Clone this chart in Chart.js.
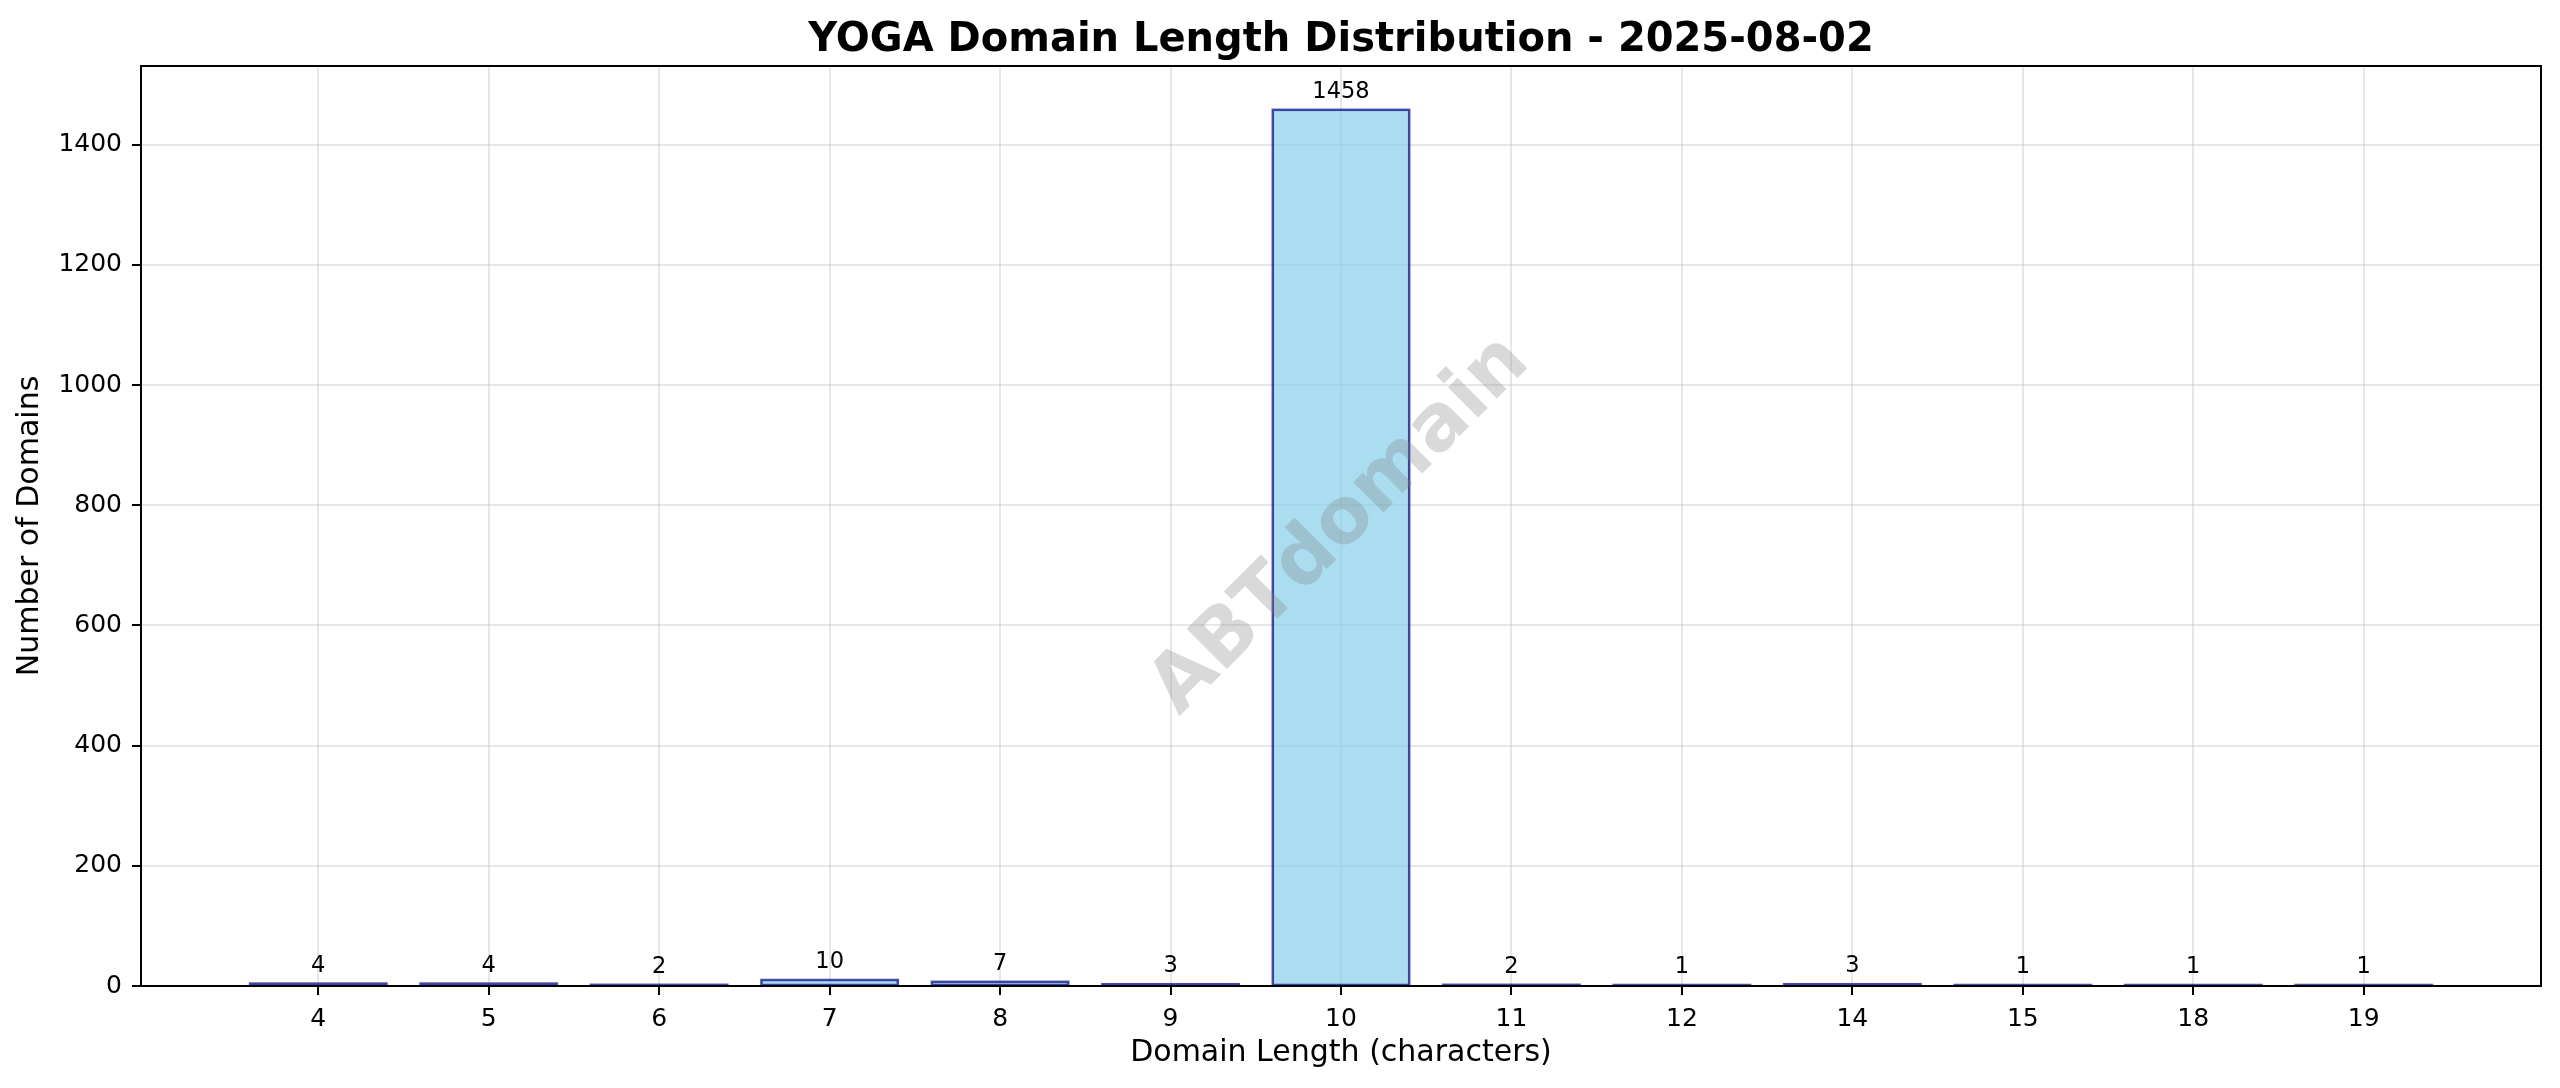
<!DOCTYPE html>
<html>
<head>
<meta charset="utf-8">
<script src="https://cdn.jsdelivr.net/npm/chart.js@4.4.0/dist/chart.umd.min.js"></script>
<style>
  body { margin: 0; background: #fff; }
  #wrap { width: 2560px; height: 1088px; position: relative; }
</style>
</head>
<body>
<div id="wrap"><canvas id="barChart"></canvas></div>
<script>
// Datos del gráfico
const longitudes = [4, 5, 6, 7, 8, 9, 10, 11, 12, 14, 15, 18, 19];
const cantidades = [4, 4, 2, 10, 7, 3, 1458, 2, 1, 3, 1, 1, 1];
const yTicks = [0, 200, 400, 600, 800, 1000, 1200, 1400];
const titulo = 'YOGA Domain Length Distribution - 2025-08-02';
const etiquetaX = 'Domain Length (characters)';
const etiquetaY = 'Number of Domains';
const marcaAgua = 'ABTdomain';

const FUENTE = "'DejaVu Sans', sans-serif";

// margenes tipo matplotlib (5% del rango de barras)
const rangoBarras = (longitudes.length - 1) + 0.8;
const xMin = -0.4 - rangoBarras * 0.05;
const xMax = longitudes.length - 1 + 0.4 + rangoBarras * 0.05;
const yMax = Math.max(...cantidades) * 1.05;

// Plugin para titulo, bordes, etiquetas y marca de agua
const extras = {
    id: 'extras',
    afterDatasetsDraw(chart) {
        // borde de las barras centrado en el contorno (como matplotlib)
        const ctx = chart.ctx;
        const meta = chart.getDatasetMeta(0);
        ctx.save();
        ctx.strokeStyle = 'rgba(0, 0, 128, 0.7)';
        ctx.lineWidth = 2.5;
        meta.data.forEach(bar => {
            const p = bar.getProps(['x', 'y', 'base', 'width'], true);
            ctx.strokeRect(p.x - p.width / 2, p.y, p.width, p.base - p.y);
        });
        ctx.restore();
    },
    afterDraw(chart) {
        const ctx = chart.ctx;
        const area = chart.chartArea;
        ctx.save();

        // marca de agua
        ctx.translate((area.left + area.right) / 2, (area.top + area.bottom) / 2);
        ctx.rotate(-Math.PI / 4);
        ctx.font = 'bold 78px ' + FUENTE;
        ctx.fillStyle = 'rgba(128,128,128,0.3)';
        ctx.textAlign = 'center';
        ctx.textBaseline = 'middle';
        ctx.fillText(marcaAgua, 0, 0);
        ctx.setTransform(1, 0, 0, 1, 0, 0);

        // etiquetas de valores
        const meta = chart.getDatasetMeta(0);
        ctx.font = '22.5px ' + FUENTE;
        ctx.fillStyle = '#000';
        ctx.textAlign = 'center';
        ctx.textBaseline = 'alphabetic';
        meta.data.forEach((bar, i) => {
            ctx.fillText(String(cantidades[i]), bar.x, bar.y - 12);
        });

        // marco completo
        ctx.strokeStyle = '#000';
        ctx.lineWidth = 2;
        ctx.strokeRect(area.left, area.top, area.right - area.left, area.bottom - area.top);

        // titulo
        ctx.font = 'bold 40px ' + FUENTE;
        ctx.textBaseline = 'alphabetic';
        ctx.fillText(titulo, (area.left + area.right) / 2, 51);
        ctx.restore();
    }
};

const ctx = document.getElementById('barChart').getContext('2d');
window.barChartInstance = new Chart(ctx, {
    type: 'bar',
    data: {
        datasets: [{
            label: etiquetaY,
            data: cantidades.map((c, i) => ({ x: i, y: c })),
            backgroundColor: 'rgba(135, 206, 235, 0.7)',
            borderWidth: 0,
            barPercentage: 0.8,
            categoryPercentage: 1.0
        }]
    },
    plugins: [extras],
    options: {
        responsive: true,
        maintainAspectRatio: false,
        devicePixelRatio: 1,
        animation: false,
        layout: { padding: { top: 66, right: 19, left: 0, bottom: 0 } },
        plugins: {
            legend: { display: false },
            tooltip: { enabled: false },
            title: { display: false }
        },
        scales: {
            x: {
                type: 'linear',
                min: xMin,
                max: xMax,
                offset: false,
                z: 1,
                afterFit(scale) { scale.height = 102; },
                afterBuildTicks(scale) {
                    scale.ticks = longitudes.map((_, i) => ({ value: i }));
                },
                ticks: {
                    callback: (v) => String(longitudes[v]),
                    color: '#000',
                    font: { family: FUENTE, size: 25 },
                    padding: 9,
                    maxRotation: 0,
                    autoSkip: false
                },
                grid: {
                    offset: false,
                    color: 'rgba(176,176,176,0.3)',
                    lineWidth: 2,
                    tickColor: '#000',
                    tickLength: 9,
                    tickWidth: 2
                },
                border: { display: true, color: '#000', width: 2 },
                title: {
                    display: true,
                    text: etiquetaX,
                    color: '#000',
                    font: { family: FUENTE, size: 30 },
                    padding: { top: 0, bottom: 17 }
                }
            },
            y: {
                min: 0,
                max: yMax,
                z: 1,
                afterFit(scale) { scale.width = 141; },
                afterBuildTicks(scale) {
                    scale.ticks = yTicks.map(v => ({ value: v }));
                },
                ticks: {
                    callback: (v) => String(v),
                    color: '#000',
                    font: { family: FUENTE, size: 25 },
                    padding: 10
                },
                grid: {
                    color: 'rgba(176,176,176,0.3)',
                    lineWidth: 2,
                    tickColor: '#000',
                    tickLength: 9,
                    tickWidth: 2
                },
                border: { display: true, color: '#000', width: 2 },
                title: {
                    display: true,
                    text: etiquetaY,
                    color: '#000',
                    font: { family: FUENTE, size: 30 },
                    padding: { top: 12, bottom: 0 }
                }
            }
        }
    }
});
</script>
</body>
</html>
